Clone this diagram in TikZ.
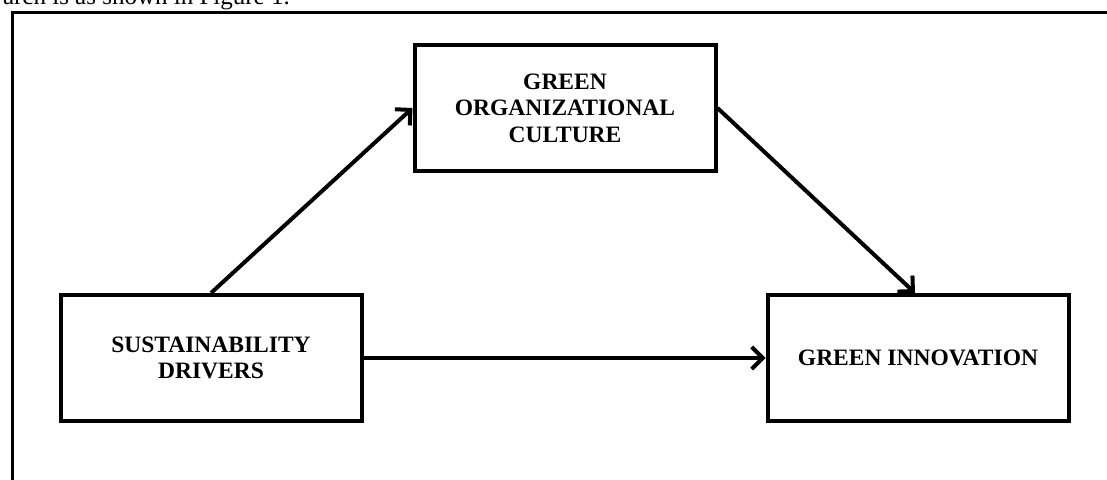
\documentclass[tikz,border=0pt]{standalone}
\usepackage{fontspec}
\setmainfont{Liberation Serif}
\usetikzlibrary{arrows.meta}
\tikzset{
  varbox/.style={draw, line width=4pt, minimum width=301pt, minimum height=126pt,
    align=center, inner sep=0pt, font=\fontsize{23.5}{26.5}\selectfont\bfseries},
  link/.style={line width=4pt, -{Straight Barb[length=11pt,width=22pt,line width=4pt]}},
  frameline/.style={line width=3pt}
}
\begin{document}
\begin{tikzpicture}[x=1pt,y=-1pt]
\useasboundingbox (0,0) rectangle (1107,479);
\clip (0,0) rectangle (1107,479);
% cut-off line of text above the frame
\node[anchor=base east, inner sep=0pt, font=\fontsize{25}{28}\selectfont] (caption) at (290,5) {arch is as shown in Figure 1.};
% frame
\coordinate (fbl) at (12,485);
\coordinate (ftl) at (12,12);
\coordinate (ftr) at (1112,12);
\draw[frameline] (fbl) -- (ftl) -- (ftr);
% boxes
\node[varbox] (sd) at (211,358) {SUSTAINABILITY\\DRIVERS};
\node[varbox] (goc) at (565,108) {GREEN\\ORGANIZATIONAL\\CULTURE};
\node[varbox] (gi) at (918,358) {GREEN INNOVATION};
% connectors
\draw[link] (sd.north) -- (goc.west);
\draw[link] (goc.east) -- ([xshift=-3pt]gi.north);
\draw[link] (sd.east) -- (gi.west);
\end{tikzpicture}
\end{document}
